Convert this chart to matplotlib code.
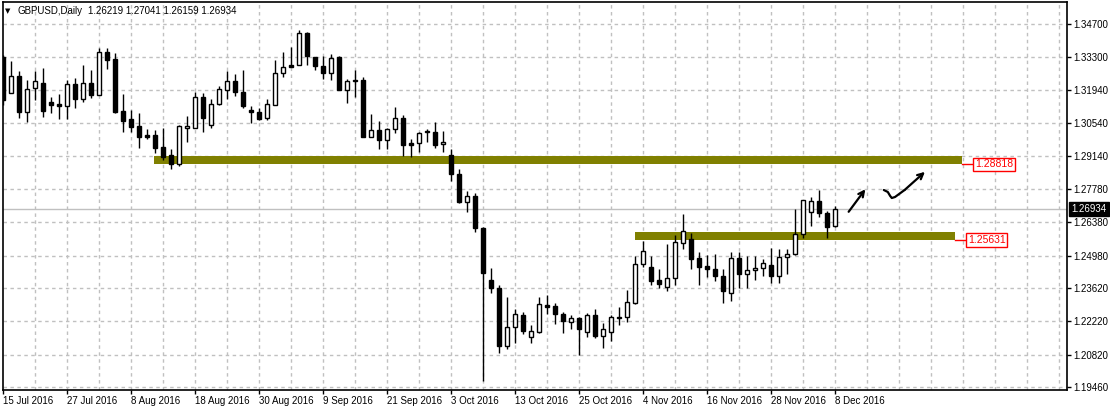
import numpy as np
import pandas as pd
import matplotlib
matplotlib.use("Agg")
import matplotlib.pyplot as plt

dates = pd.bdate_range("2016-07-15", "2016-12-08")

opens = [1.33315, 1.31804, 1.32517, 1.31006, 1.32013, 1.32223, 1.31426, 1.31342, 1.31258, 1.32181,
         1.31552, 1.32223, 1.31720, 1.33525, 1.33231, 1.31048, 1.30712, 1.30418, 1.30040, 1.30040,
         1.29536, 1.29201, 1.28823, 1.30334, 1.30334, 1.31636, 1.30460, 1.31342, 1.31930, 1.32307,
         1.31846, 1.31090, 1.31006, 1.30754, 1.31300, 1.32643, 1.32979, 1.32979, 1.34323, 1.33315,
         1.32937, 1.32643, 1.33315, 1.31930, 1.32307, 1.32349, 1.29956, 1.30250, 1.29830, 1.30292,
         1.30754, 1.29704, 1.29704, 1.30166, 1.30166, 1.29662, 1.29201, 1.28403, 1.27227, 1.27479,
         1.26136, 1.23953, 1.23617, 1.21182, 1.21980, 1.22483, 1.21560, 1.21770, 1.22903, 1.22861,
         1.22525, 1.22189, 1.22357, 1.21770, 1.22483, 1.21602, 1.21770, 1.22357, 1.22399, 1.22987,
         1.24624, 1.24499, 1.23953, 1.23659, 1.24037, 1.25506, 1.25674, 1.24876, 1.24541, 1.24415,
         1.24121, 1.23407, 1.24876, 1.24205, 1.24373, 1.24457, 1.24583, 1.24121, 1.24918, 1.25044,
         1.25884, 1.26808, 1.27269, 1.26766, 1.26219]
highs = [1.33399, 1.33147, 1.32727, 1.32349, 1.32727, 1.32853, 1.31636, 1.31762, 1.32349, 1.32433,
         1.32979, 1.32769, 1.33693, 1.33693, 1.33483, 1.31762, 1.31090, 1.30964, 1.30292, 1.30250,
         1.30334, 1.29453, 1.30460, 1.30838, 1.31846, 1.31804, 1.31552, 1.32097, 1.32727, 1.32601,
         1.32769, 1.31258, 1.31174, 1.31552, 1.33189, 1.33525, 1.33735, 1.34449, 1.34365, 1.33315,
         1.33357, 1.33441, 1.33357, 1.32391, 1.32769, 1.32475, 1.30922, 1.30628, 1.30334, 1.31216,
         1.30880, 1.29872, 1.30166, 1.30292, 1.30586, 1.30208, 1.29453, 1.28613, 1.27689, 1.27605,
         1.26178, 1.24457, 1.23743, 1.23239, 1.22735, 1.22609, 1.22064, 1.23239, 1.23323, 1.22987,
         1.22609, 1.22483, 1.22399, 1.22567, 1.22735, 1.22147, 1.22483, 1.22819, 1.23533, 1.24960,
         1.25590, 1.24960, 1.24415, 1.25464, 1.25842, 1.26724, 1.25926, 1.25128, 1.25002, 1.25044,
         1.24415, 1.25128, 1.25128, 1.24960, 1.24960, 1.24834, 1.25296, 1.25254, 1.25254, 1.26934,
         1.27311, 1.27437, 1.27731, 1.26850, 1.27041]
lows = [1.31300, 1.31804, 1.30754, 1.30586, 1.31510, 1.30796, 1.30964, 1.30712, 1.30712, 1.31174,
        1.31426, 1.31594, 1.31720, 1.32811, 1.30964, 1.30166, 1.30166, 1.29495, 1.29872, 1.29285,
        1.28991, 1.28613, 1.28739, 1.29746, 1.30334, 1.30166, 1.30334, 1.31300, 1.31552, 1.31678,
        1.31174, 1.30544, 1.30670, 1.30670, 1.31300, 1.32475, 1.32895, 1.32979, 1.32979, 1.32769,
        1.32391, 1.32349, 1.31930, 1.31384, 1.31636, 1.29956, 1.29956, 1.29453, 1.29453, 1.30124,
        1.29159, 1.29117, 1.29327, 1.29746, 1.29495, 1.29327, 1.28109, 1.27185, 1.26808, 1.25968,
        1.19712, 1.23407, 1.20888, 1.21056, 1.21308, 1.21686, 1.21308, 1.21728, 1.22525, 1.22105,
        1.21728, 1.21896, 1.20804, 1.21560, 1.21518, 1.21098, 1.21392, 1.22064, 1.22189, 1.22945,
        1.24499, 1.23743, 1.23617, 1.23491, 1.23743, 1.25254, 1.24415, 1.23743, 1.24079, 1.23911,
        1.22987, 1.23071, 1.23617, 1.23617, 1.23953, 1.24121, 1.23827, 1.23827, 1.24205, 1.25002,
        1.25716, 1.26220, 1.26598, 1.25716, 1.26159]
closes = [1.31510, 1.32517, 1.31006, 1.31971, 1.32307, 1.31048, 1.31300, 1.31258, 1.32181, 1.31552,
          1.32223, 1.31720, 1.33525, 1.33189, 1.31006, 1.30628, 1.30376, 1.29956, 1.29956, 1.29495,
          1.29117, 1.28823, 1.30418, 1.30418, 1.31636, 1.30754, 1.31342, 1.31971, 1.32307, 1.31846,
          1.31258, 1.31006, 1.30712, 1.31342, 1.32643, 1.32895, 1.32895, 1.34323, 1.33357, 1.32937,
          1.32643, 1.33273, 1.31930, 1.32307, 1.32349, 1.29956, 1.30250, 1.29830, 1.30292, 1.30754,
          1.29620, 1.29620, 1.30124, 1.30208, 1.29620, 1.29746, 1.28403, 1.27227, 1.27479, 1.26136,
          1.24247, 1.23617, 1.21182, 1.21980, 1.22525, 1.21812, 1.21812, 1.22945, 1.22819, 1.22525,
          1.22231, 1.22357, 1.21896, 1.22483, 1.21602, 1.21896, 1.22399, 1.22399, 1.23029, 1.24624,
          1.25170, 1.23911, 1.23785, 1.24037, 1.25548, 1.26010, 1.24834, 1.24499, 1.24415, 1.24121,
          1.23491, 1.24876, 1.24205, 1.24373, 1.24457, 1.24666, 1.24121, 1.24918, 1.25044, 1.25884,
          1.27311, 1.27269, 1.26766, 1.26178, 1.26934]

price_ticks = [1.34700, 1.33300, 1.31940, 1.30540, 1.29140, 1.27780,
               1.26380, 1.24980, 1.23620, 1.22220, 1.20820, 1.19460]
current_price = 1.26934

# support / resistance zones drawn on the chart (level, first bar, last bar)
levels = [1.28818, 1.25631]
level_start = [18.9, 79.0]
level_end = [119.9, 119.0]

# hand drawn arrows, (bar index, price)
arrow1_from = (105.5, 1.26723)
arrow1_to = (108.0, 1.27857)
squiggle_x = [110.1, 110.6, 110.9, 111.1, 111.5, 112.7]
squiggle_y = [1.27731, 1.27647, 1.27479, 1.27395, 1.27437, 1.27731]
arrow2_to = (115.5, 1.28571)

W, H = 1110, 411
fig = plt.figure(figsize=(W / 100, H / 100), dpi=100)
ax = fig.add_axes([3 / W, (H - 390) / H, 1064 / W, 388 / H])
ax.set_xlim(0, 133)
ax.set_ylim(1.19334, 1.35624)

font = "Liberation Sans"
grid_kw = dict(color="#c0c0c0", lw=1, ls=(0, (2.5, 2.5)), zorder=0.5)
for gx in np.arange(4, 133, 4):
    ax.axvline(gx, **grid_kw)
for gy in price_ticks:
    ax.axhline(gy, **grid_kw)

ax.axhline(current_price, color="#c0c0c0", lw=1, zorder=1.5)

for lv, x0, x1 in zip(levels, level_start, level_end):
    ax.fill_between([x0, x1], lv, lv + 0.0033, color="#808000", lw=0, zorder=1)
    ax.plot([x1, x1 + 1.5], [lv, lv], color="red", lw=1, zorder=4)
    ax.text(x1 + 1.6, lv, f"{lv:.5f}", color="red", fontsize=7.5, family=font,
            va="center", ha="left", zorder=5,
            bbox=dict(boxstyle="square,pad=0.15", fc="white", ec="red", lw=1))

x = np.arange(len(opens))
o = np.array(opens)
c = np.array(closes)
ax.vlines(x, lows, highs, color="black", lw=1, zorder=2)
up = c >= o
body_lo = np.minimum(o, c)
body_h = np.maximum(np.abs(c - o), 0.00005)
ax.bar(x[up], body_h[up], bottom=body_lo[up], width=0.62, color="white",
       edgecolor="black", lw=1, zorder=3)
ax.bar(x[~up], body_h[~up], bottom=body_lo[~up], width=0.62, color="black",
       edgecolor="black", lw=1, zorder=3)

ax.annotate("", xy=arrow1_to, xytext=arrow1_from,
            arrowprops=dict(arrowstyle="->", lw=1.6, color="black", mutation_scale=10))
ax.plot(squiggle_x, squiggle_y, color="black", lw=1.6, solid_capstyle="round")
ax.annotate("", xy=arrow2_to, xytext=(squiggle_x[-1], squiggle_y[-1]),
            arrowprops=dict(arrowstyle="->", lw=1.6, color="black", mutation_scale=10,
                            shrinkA=0))

for s in ax.spines.values():
    s.set_color("black")
    s.set_linewidth(1.2)

ax.yaxis.tick_right()
ax.set_yticks(price_ticks)
ax.set_yticklabels([f"{p:.5f}" for p in price_ticks], family=font, fontsize=7)
ax.tick_params(axis="y", length=3, width=1, pad=1.5)

xt = x[::8]
ax.set_xticks(xt)
ax.set_xticklabels([f"{d.day} {d.strftime('%b %Y')}" for d in dates[::8]],
                   family=font, fontsize=7, ha="left")
ax.tick_params(axis="x", length=3, width=1, pad=1.5)

fig.text(1071 / W, 1 - 209 / H, f"{current_price:.5f}", color="white", fontsize=7,
         family=font, va="center", ha="left",
         bbox=dict(boxstyle="square,pad=0.25", fc="black", ec="black"))

fig.text(5 / W, 1 - 11 / H, "▼", fontsize=5, va="center", ha="left")
fig.text(18 / W, 1 - 11 / H, "GBPUSD,Daily", fontsize=7, family=font, va="center")
fig.text(88 / W, 1 - 11 / H, "1.26219 1.27041 1.26159 1.26934", fontsize=7,
         family=font, va="center")

fig.savefig("out.png", dpi=100, facecolor="white")
